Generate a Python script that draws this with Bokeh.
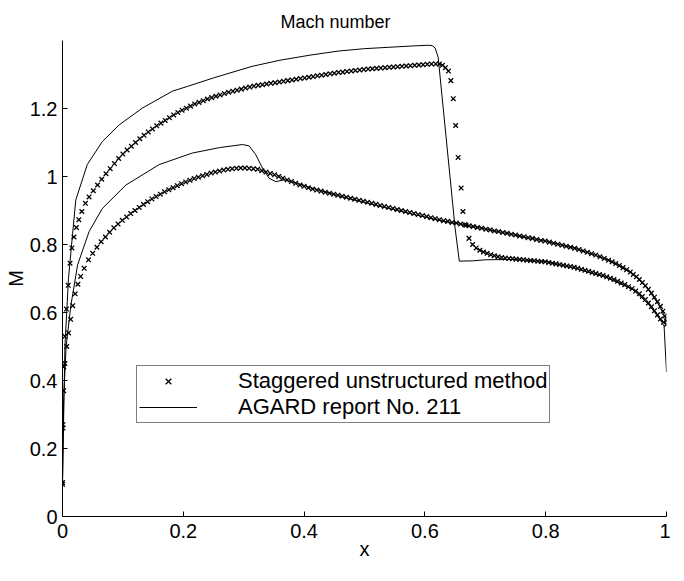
from bokeh.plotting import figure
from bokeh.models import Range1d, FixedTicker, Legend, LegendItem
from bokeh.embed import file_html
from bokeh.resources import INLINE

# ---------------- data ----------------
# Staggered unstructured method, upper surface (crosses)
upper_x = [0.0000, 0.0008, 0.0020, 0.0040, 0.0065, 0.0095, 0.0125, 0.0155, 0.0190, 0.0230,
           0.0270, 0.0320, 0.0380, 0.0440, 0.0510, 0.0580, 0.0650, 0.0720, 0.0790, 0.0860,
           0.0930, 0.1000, 0.1070, 0.1140, 0.1210, 0.1280, 0.1350, 0.1420, 0.1490, 0.1560,
           0.1630, 0.1700, 0.1770, 0.1840, 0.1910, 0.1980, 0.2050, 0.2120, 0.2190, 0.2260,
           0.2330, 0.2400, 0.2470, 0.2540, 0.2610, 0.2680, 0.2750, 0.2820, 0.2890, 0.2960,
           0.3030, 0.3100, 0.3170, 0.3240, 0.3310, 0.3380, 0.3450, 0.3520, 0.3590, 0.3660,
           0.3730, 0.3800, 0.3870, 0.3940, 0.4010, 0.4080, 0.4150, 0.4220, 0.4290, 0.4360,
           0.4430, 0.4500, 0.4570, 0.4640, 0.4710, 0.4780, 0.4850, 0.4920, 0.4990, 0.5060,
           0.5130, 0.5200, 0.5270, 0.5340, 0.5410, 0.5480, 0.5550, 0.5620, 0.5690, 0.5760,
           0.5830, 0.5900, 0.5970, 0.6040, 0.6110, 0.6180, 0.6240, 0.6290, 0.6340, 0.6390,
           0.6430, 0.6470, 0.6510, 0.6550, 0.6600, 0.6630, 0.6680, 0.6730, 0.6790, 0.6850,
           0.6910, 0.6970, 0.7030, 0.7090, 0.7150, 0.7210, 0.7270, 0.7330, 0.7390, 0.7450,
           0.7510, 0.7570, 0.7630, 0.7690, 0.7750, 0.7810, 0.7870, 0.7930, 0.7990, 0.8050,
           0.8110, 0.8170, 0.8230, 0.8290, 0.8350, 0.8410, 0.8470, 0.8530, 0.8590, 0.8650,
           0.8710, 0.8770, 0.8830, 0.8890, 0.8950, 0.9010, 0.9070, 0.9130, 0.9190, 0.9250,
           0.9310, 0.9370, 0.9430, 0.9490, 0.9550, 0.9600, 0.9650, 0.9700, 0.9750, 0.9800,
           0.9850, 0.9900, 0.9950, 1.0000]
upper_m = [0.100, 0.270, 0.440, 0.530, 0.610, 0.680, 0.745, 0.790, 0.822, 0.850,
           0.873, 0.897, 0.921, 0.940, 0.958, 0.975, 0.992, 1.008, 1.023, 1.038,
           1.053, 1.066, 1.078, 1.089, 1.100, 1.111, 1.121, 1.131, 1.140, 1.149,
           1.157, 1.165, 1.173, 1.181, 1.188, 1.195, 1.201, 1.207, 1.213, 1.218,
           1.223, 1.228, 1.232, 1.236, 1.240, 1.244, 1.248, 1.251, 1.254, 1.257,
           1.260, 1.263, 1.266, 1.268, 1.270, 1.272, 1.274, 1.276, 1.278, 1.280,
           1.282, 1.284, 1.286, 1.288, 1.290, 1.292, 1.294, 1.296, 1.298, 1.300,
           1.302, 1.304, 1.306, 1.307, 1.309, 1.310, 1.312, 1.313, 1.315, 1.316,
           1.317, 1.318, 1.319, 1.320, 1.321, 1.322, 1.323, 1.324, 1.325, 1.326,
           1.327, 1.328, 1.329, 1.330, 1.331, 1.331, 1.331, 1.327, 1.320, 1.310,
           1.282, 1.229, 1.150, 1.056, 0.966, 0.897, 0.857, 0.818, 0.800, 0.790,
           0.783, 0.778, 0.774, 0.770, 0.767, 0.764, 0.762, 0.760, 0.759, 0.758,
           0.757, 0.756, 0.755, 0.754, 0.753, 0.752, 0.751, 0.750, 0.749, 0.747,
           0.745, 0.743, 0.741, 0.739, 0.737, 0.735, 0.733, 0.730, 0.727, 0.724,
           0.721, 0.718, 0.715, 0.712, 0.709, 0.705, 0.701, 0.697, 0.692, 0.687,
           0.682, 0.676, 0.670, 0.663, 0.655, 0.647, 0.638, 0.628, 0.617, 0.605,
           0.593, 0.581, 0.571, 0.565]

# Staggered unstructured method, lower surface (crosses)
lower_x = [0.0000, 0.0008, 0.0020, 0.0040, 0.0070, 0.0100, 0.0135, 0.0170, 0.0210, 0.0255,
           0.0300, 0.0360, 0.0430, 0.0500, 0.0570, 0.0640, 0.0710, 0.0780, 0.0850, 0.0920,
           0.0990, 0.1060, 0.1130, 0.1200, 0.1270, 0.1340, 0.1410, 0.1480, 0.1550, 0.1620,
           0.1690, 0.1760, 0.1830, 0.1900, 0.1970, 0.2040, 0.2110, 0.2180, 0.2250, 0.2320,
           0.2390, 0.2460, 0.2530, 0.2600, 0.2670, 0.2740, 0.2810, 0.2880, 0.2950, 0.3020,
           0.3090, 0.3160, 0.3230, 0.3300, 0.3370, 0.3440, 0.3510, 0.3580, 0.3650, 0.3720,
           0.3790, 0.3860, 0.3930, 0.4000, 0.4070, 0.4140, 0.4210, 0.4280, 0.4350, 0.4420,
           0.4490, 0.4560, 0.4630, 0.4700, 0.4770, 0.4840, 0.4910, 0.4980, 0.5050, 0.5120,
           0.5190, 0.5260, 0.5330, 0.5400, 0.5470, 0.5540, 0.5610, 0.5680, 0.5750, 0.5820,
           0.5890, 0.5960, 0.6030, 0.6100, 0.6170, 0.6240, 0.6310, 0.6380, 0.6450, 0.6520,
           0.6590, 0.6660, 0.6730, 0.6800, 0.6870, 0.6940, 0.7010, 0.7080, 0.7150, 0.7220,
           0.7290, 0.7360, 0.7430, 0.7500, 0.7570, 0.7640, 0.7710, 0.7780, 0.7850, 0.7920,
           0.7990, 0.8060, 0.8130, 0.8200, 0.8270, 0.8340, 0.8410, 0.8480, 0.8550, 0.8620,
           0.8690, 0.8760, 0.8830, 0.8900, 0.8970, 0.9040, 0.9100, 0.9160, 0.9220, 0.9280,
           0.9340, 0.9400, 0.9450, 0.9500, 0.9550, 0.9600, 0.9650, 0.9700, 0.9750, 0.9800,
           0.9850, 0.9900, 0.9940, 0.9970, 1.0000]
lower_m = [0.095, 0.260, 0.370, 0.450, 0.500, 0.540, 0.580, 0.620, 0.655, 0.683,
           0.706, 0.730, 0.755, 0.774, 0.792, 0.808, 0.822, 0.836, 0.849, 0.860,
           0.871, 0.881, 0.891, 0.900, 0.909, 0.918, 0.926, 0.934, 0.941, 0.948,
           0.955, 0.961, 0.967, 0.973, 0.979, 0.984, 0.989, 0.994, 0.998, 1.002,
           1.006, 1.010, 1.013, 1.016, 1.019, 1.021, 1.023, 1.024, 1.025, 1.025,
           1.024, 1.023, 1.021, 1.017, 1.013, 1.009, 1.005, 1.000, 0.995, 0.990,
           0.985, 0.980, 0.975, 0.971, 0.967, 0.963, 0.960, 0.957, 0.954, 0.951,
           0.948, 0.945, 0.942, 0.939, 0.936, 0.933, 0.930, 0.927, 0.924, 0.921,
           0.918, 0.915, 0.912, 0.909, 0.906, 0.903, 0.900, 0.897, 0.894, 0.891,
           0.888, 0.885, 0.882, 0.879, 0.876, 0.873, 0.870, 0.868, 0.865, 0.863,
           0.860, 0.858, 0.855, 0.853, 0.850, 0.848, 0.845, 0.843, 0.840, 0.838,
           0.835, 0.833, 0.830, 0.828, 0.825, 0.823, 0.820, 0.818, 0.815, 0.812,
           0.810, 0.807, 0.804, 0.801, 0.798, 0.795, 0.792, 0.789, 0.785, 0.781,
           0.777, 0.773, 0.769, 0.764, 0.759, 0.754, 0.749, 0.744, 0.738, 0.732,
           0.726, 0.719, 0.712, 0.705, 0.697, 0.688, 0.679, 0.668, 0.657, 0.645,
           0.632, 0.618, 0.604, 0.590, 0.575]

# AGARD report No. 211, upper surface (solid line)
agard_up_x = [0.0, 0.004, 0.0099, 0.0166, 0.022, 0.041, 0.066, 0.094, 0.132, 0.182,
              0.207, 0.25, 0.314, 0.36, 0.41, 0.457, 0.50, 0.54, 0.58, 0.605,
              0.612, 0.617, 0.622, 0.650, 0.657, 0.68, 0.70, 0.745, 0.80, 0.85,
              0.90, 0.944, 0.97, 0.99, 0.996, 1.0]
agard_up_m = [0.10, 0.50, 0.70, 0.829, 0.931, 1.035, 1.103, 1.152, 1.201, 1.251,
              1.265, 1.290, 1.324, 1.342, 1.357, 1.369, 1.376, 1.380, 1.384, 1.386,
              1.385, 1.378, 1.350, 0.848, 0.751, 0.752, 0.755, 0.756, 0.750, 0.729,
              0.703, 0.668, 0.625, 0.578, 0.560, 0.425]

# AGARD report No. 211, lower surface (solid line)
agard_lo_x = [0.0, 0.002, 0.006, 0.0138, 0.025, 0.044, 0.066, 0.105, 0.16, 0.215,
              0.26, 0.298, 0.309, 0.32, 0.331, 0.342, 0.353, 0.367, 0.385, 0.42,
              0.47, 0.52, 0.58, 0.63, 0.70, 0.745, 0.80, 0.85, 0.90, 0.944,
              0.97, 0.99, 1.0]
agard_lo_m = [0.10, 0.35, 0.50, 0.62, 0.74, 0.838, 0.906, 0.975, 1.035, 1.069,
              1.085, 1.094, 1.090, 1.064, 1.025, 0.995, 0.985, 0.990, 0.982, 0.962,
              0.937, 0.915, 0.889, 0.869, 0.846, 0.829, 0.810, 0.788, 0.757, 0.714,
              0.668, 0.615, 0.575]

x_ticks = [0, 0.2, 0.4, 0.6, 0.8, 1]
x_tick_labels = ["0", "0.2", "0.4", "0.6", "0.8", "1"]
y_ticks = [0, 0.2, 0.4, 0.6, 0.8, 1, 1.2]
y_tick_labels = ["0", "0.2", "0.4", "0.6", "0.8", "1", "1.2"]

title_text = "Mach number"
x_label = "x"
y_label = "M"
legend_labels = ["Staggered unstructured method", "AGARD report No. 211"]

# ---------------- figure ----------------
FONT = "Liberation Sans"

p = figure(width=670, height=565, output_backend="svg", toolbar_location=None,
           x_range=Range1d(0, 1), y_range=Range1d(0, 1.4),
           min_border_left=62, min_border_right=4, min_border_top=40, min_border_bottom=49)

p.title.text = title_text
p.title.align = "left"
p.title.offset = 218
p.title.standoff = 18
p.title.text_font = FONT
p.title.text_font_size = "18px"
p.title.text_font_style = "normal"
p.title.text_color = "black"

p.xgrid.visible = False
p.ygrid.visible = False
p.outline_line_color = None
p.background_fill_color = "white"
p.border_fill_color = "white"

for ax, ticks, labels, lab in ((p.xaxis[0], x_ticks, x_tick_labels, x_label),
                               (p.yaxis[0], y_ticks, y_tick_labels, y_label)):
    ax.ticker = FixedTicker(ticks=ticks)
    ax.major_label_overrides = dict(zip(ticks, labels))
    ax.minor_tick_line_color = None
    ax.major_tick_in = 5
    ax.major_tick_out = 0
    ax.axis_line_color = "black"
    ax.major_tick_line_color = "black"
    ax.major_label_text_font = FONT
    ax.major_label_text_font_size = "20px"
    ax.major_label_text_color = "black"
    ax.axis_label = lab
    ax.axis_label_text_font = FONT
    ax.axis_label_text_font_size = "20px"
    ax.axis_label_text_font_style = "normal"
    ax.axis_label_text_color = "black"

p.xaxis.major_label_standoff = 7
p.xaxis.axis_label_standoff = -3
p.yaxis.major_label_standoff = 5
p.yaxis.axis_label_standoff = 0

r_up_x = p.scatter(upper_x, upper_m, marker="x", size=6.5, line_color="black", line_width=1.3)
r_lo_x = p.scatter(lower_x, lower_m, marker="x", size=6.5, line_color="black", line_width=1.3)
r_up_l = p.line(agard_up_x, agard_up_m, line_color="black", line_width=1)
r_lo_l = p.line(agard_lo_x, agard_lo_m, line_color="black", line_width=1)

legend = Legend(items=[LegendItem(label=legend_labels[0], renderers=[r_up_x]),
                       LegendItem(label=legend_labels[1], renderers=[r_up_l])],
                location=(74, 93), orientation="vertical",
                label_text_font=FONT, label_text_font_size="22px",
                label_text_color="black",
                glyph_width=58, glyph_height=20, label_height=20,
                label_standoff=41, padding=2, spacing=0, margin=0,
                border_line_color="black", border_line_width=1,
                background_fill_color="white", background_fill_alpha=1.0)
p.add_layout(legend, "center")

open("out.html", "w").write(file_html(p, INLINE))
